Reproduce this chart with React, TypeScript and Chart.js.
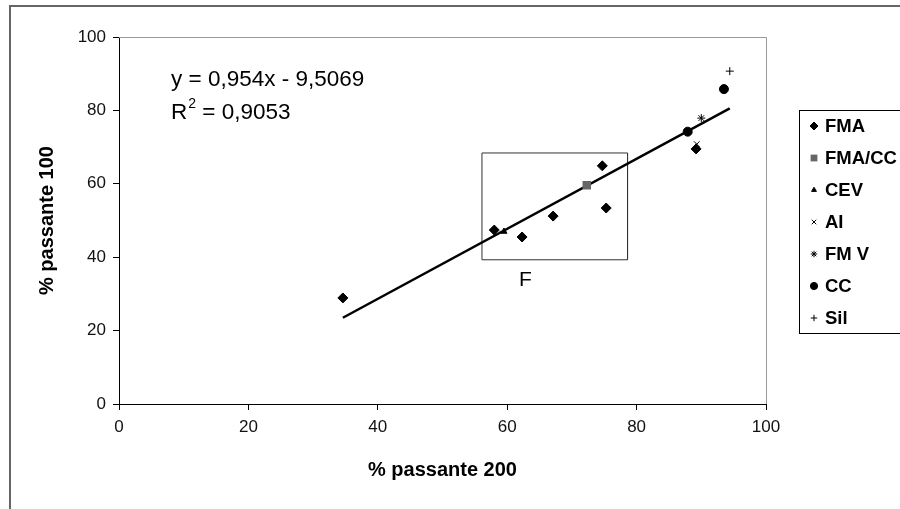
import React, { useEffect, useRef } from "react";
import { Chart, registerables } from "chart.js";
import { drawPoint } from "chart.js/helpers";

Chart.register(...registerables);

// ---- data ----
const fmaX = [34.6, 58.0, 62.3, 67.1, 74.7, 75.3, 89.2];
const fmaY = [28.9, 47.4, 45.5, 51.2, 64.9, 53.4, 69.5];
const fmaCcX = [72.3];
const fmaCcY = [59.6];
const cevX = [59.5];
const cevY = [47.0];
const aiX = [89.3];
const aiY = [70.8];
const fmvX = [90.0];
const fmvY = [77.9];
const ccX = [87.9, 93.5];
const ccY = [74.2, 85.8];
const silX = [94.4];
const silY = [90.7];

const trendSlope = 0.954;
const trendIntercept = -9.5069;
const trendR2 = "0,9053";
const trendX = [34.6, 94.4];

const boxX = [56.1, 78.6, 78.6, 56.1, 56.1];
const boxY = [68.4, 68.4, 39.3, 39.3, 68.4];
const boxLabel = "F";

const xTicks = [0, 20, 40, 60, 80, 100];
const yTicks = [0, 20, 40, 60, 80, 100];
const xTitle = "% passante 200";
const yTitle = "% passante 100";
const equationText = "y = 0,954x - 9,5069";

const legendNames = ["FMA", "FMA/CC", "CEV", "AI", "FM V", "CC", "Sil"];

const FONT = "'Liberation Sans', Arial, Helvetica, sans-serif";

const pts = (xs: number[], ys: number[]) => xs.map((x, i) => ({ x, y: ys[i] }));

export default function App() {
  const ref = useRef<HTMLCanvasElement | null>(null);

  useEffect(() => {
    const canvas = ref.current;
    if (!canvas) return;

    const styles = [
      { style: "rectRot", radius: 5, color: "#000", bw: 1 },
      { style: "rect", radius: 6, color: "#666", bw: 0 },
      { style: "triangle", radius: 3.5, color: "#000", bw: 1 },
      { style: "crossRot", radius: 4, color: "#000", bw: 1 },
      { style: "star", radius: 4, color: "#000", bw: 1 },
      { style: "circle", radius: 4.5, color: "#000", bw: 1 },
      { style: "cross", radius: 4, color: "#000", bw: 1 },
    ];
    const seriesData = [
      pts(fmaX, fmaY),
      pts(fmaCcX, fmaCcY),
      pts(cevX, cevY),
      pts(aiX, aiY),
      pts(fmvX, fmvY),
      pts(ccX, ccY),
      pts(silX, silY),
    ];

    const scatterSets = legendNames.map((name, i) => ({
      type: "scatter" as const,
      label: name,
      data: seriesData[i],
      pointStyle: styles[i].style,
      pointRadius: styles[i].radius,
      pointBackgroundColor: styles[i].color,
      pointBorderColor: styles[i].color,
      pointBorderWidth: styles[i].bw,
      showLine: false,
      order: 1,
    }));

    const trendData = trendX.map((x) => ({ x, y: trendSlope * x + trendIntercept }));

    const overlay = {
      id: "overlay",
      beforeDraw(chart: any) {
        const ctx = chart.ctx;
        ctx.save();
        ctx.fillStyle = "#fff";
        ctx.fillRect(0, 0, chart.width, chart.height);
        ctx.restore();
      },
      afterDraw(chart: any) {
        const ctx = chart.ctx;
        const { left, right, top, bottom } = chart.chartArea;
        const xs = chart.scales.x;
        const ys = chart.scales.y;
        ctx.save();
        // outer frame
        ctx.strokeStyle = "#666";
        ctx.lineWidth = 2;
        ctx.strokeRect(10, 6, 1000, 1000);
        // plot area top/right border
        ctx.strokeStyle = "#999";
        ctx.lineWidth = 1;
        ctx.beginPath();
        ctx.moveTo(left, top + 0.5);
        ctx.lineTo(right + 0.5, top + 0.5);
        ctx.lineTo(right + 0.5, bottom);
        ctx.stroke();

        ctx.fillStyle = "#000";
        // axis titles
        ctx.font = `bold 20px ${FONT}`;
        ctx.textAlign = "center";
        ctx.textBaseline = "middle";
        ctx.fillText(xTitle, (left + right) / 2, 470);
        ctx.save();
        ctx.translate(47, (top + bottom) / 2);
        ctx.rotate(-Math.PI / 2);
        ctx.fillText(yTitle, 0, 0);
        ctx.restore();

        // equation
        ctx.textAlign = "left";
        ctx.font = `22.5px ${FONT}`;
        const ex = 171;
        ctx.fillText(equationText, ex, 80);
        ctx.fillText("R", ex, 113);
        const rw = ctx.measureText("R").width;
        ctx.font = `14px ${FONT}`;
        ctx.fillText("2", ex + rw + 1, 104);
        const sw = ctx.measureText("2").width;
        ctx.font = `22.5px ${FONT}`;
        ctx.fillText(" = " + trendR2, ex + rw + 1 + sw, 113);

        // box label
        ctx.font = `21px ${FONT}`;
        ctx.textAlign = "center";
        ctx.fillText(boxLabel, xs.getPixelForValue(62.8), ys.getPixelForValue(33.8));

        // legend
        ctx.strokeStyle = "#000";
        ctx.lineWidth = 1;
        ctx.strokeRect(799.5, 110.5, 200, 223);
        ctx.font = `bold 18.5px ${FONT}`;
        ctx.textAlign = "left";
        legendNames.forEach((name, i) => {
          const y = 126 + i * 32;
          const st = styles[i];
          ctx.fillStyle = st.color;
          ctx.strokeStyle = st.color;
          ctx.lineWidth = st.bw || 1;
          drawPoint(ctx, { pointStyle: st.style, radius: st.radius * 0.8, borderWidth: st.bw, rotation: 0 } as any, 814, y);
          ctx.fillStyle = "#000";
          ctx.fillText(name, 825, y + 1);
        });
        ctx.restore();
      },
    };

    const chart = new Chart(canvas, {
      type: "scatter",
      data: {
        datasets: [
          ...scatterSets,
          {
            type: "line" as const,
            label: "trend",
            data: trendData,
            borderColor: "#000",
            borderWidth: 2.5,
            pointRadius: 0,
            fill: false,
            order: 2,
          },
          {
            type: "line" as const,
            label: "box",
            data: pts(boxX, boxY),
            borderColor: "#333",
            borderWidth: 1,
            pointRadius: 0,
            fill: false,
            tension: 0,
            order: 3,
          },
        ],
      } as any,
      options: {
        animation: false,
        responsive: false,
        events: [],
        layout: { padding: { left: 0, right: 134, top: 37, bottom: 0 } },
        plugins: {
          legend: { display: false },
          tooltip: { enabled: false },
        },
        scales: {
          x: {
            type: "linear",
            min: 0,
            max: 100,
            afterFit: (s: any) => {
              s.height = 105;
            },
            afterBuildTicks: (s: any) => {
              s.ticks = xTicks.map((v) => ({ value: v }));
            },
            ticks: { color: "#111", font: { family: FONT, size: 17 }, padding: 7, maxRotation: 0 },
            grid: { drawOnChartArea: false, drawTicks: true, tickLength: 6, color: "#000" },
            border: { display: true, color: "#000", width: 1 },
          },
          y: {
            type: "linear",
            min: 0,
            max: 100,
            afterFit: (s: any) => {
              s.width = 119;
            },
            afterBuildTicks: (s: any) => {
              s.ticks = yTicks.map((v) => ({ value: v }));
            },
            ticks: { color: "#111", font: { family: FONT, size: 17 }, padding: 7 },
            grid: { drawOnChartArea: false, drawTicks: true, tickLength: 6, color: "#000" },
            border: { display: true, color: "#000", width: 1 },
          },
        },
      } as any,
      plugins: [overlay],
    });

    return () => chart.destroy();
  }, []);

  return (
    <div style={{ position: "fixed", left: 0, top: 0, width: 900, height: 509, background: "#fff" }}>
      <canvas ref={ref} width={900} height={509} style={{ display: "block", width: 900, height: 509 }} />
    </div>
  );
}
